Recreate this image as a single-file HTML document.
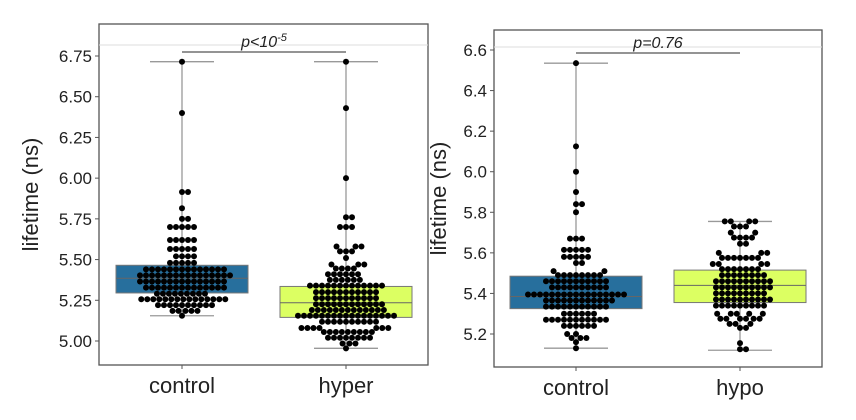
<!DOCTYPE html>
<html><head><meta charset="utf-8"><style>
body{margin:0;background:#fff;width:856px;height:420px;overflow:hidden}
svg{display:block;font-family:"Liberation Sans",sans-serif}
</style></head><body>
<svg id="c" width="856" height="420"></svg>
<script>
// Left panel data (value levels and point counts per level)
const leftCategories = ["control","hyper"];
const leftTicks = [5.00,5.25,5.50,5.75,6.00,6.25,6.50,6.75];
const leftControlLevels = [6.715,6.40,5.915,5.815,5.75,5.70,5.62,5.565,5.52,5.48,5.44,5.403,5.365,5.328,5.29,5.256,5.22,5.185,5.155];
const leftControlCounts = [1,1,2,1,2,5,5,5,4,5,14,16,15,14,9,15,10,5,1];
const leftControlBox = [5.155,5.295,5.385,5.465,6.715];
const hyperLevels = [6.715,6.43,6.0,5.76,5.70,5.58,5.55,5.51,5.47,5.445,5.41,5.375,5.34,5.30,5.263,5.226,5.19,5.155,5.118,5.08,5.055,5.02,4.985,4.955];
const hyperCounts = [1,1,1,2,3,3,3,1,3,4,6,6,13,11,11,12,13,17,10,7,9,8,3,1];
const hyperBox = [4.955,5.145,5.235,5.335,6.715];
// Right panel data
const rightCategories = ["control","hypo"];
const rightTicks = [5.2,5.4,5.6,5.8,6.0,6.2,6.4,6.6];
const rightControlLevels = [6.535,6.125,6.0,5.90,5.84,5.80,5.67,5.615,5.58,5.55,5.51,5.49,5.46,5.43,5.395,5.365,5.335,5.30,5.27,5.24,5.20,5.18,5.16,5.13];
const rightControlCounts = [1,1,1,1,2,1,3,5,5,2,2,8,11,10,17,12,11,6,11,6,2,3,1,1];
const rightControlBox = [5.13,5.325,5.385,5.485,6.535];
const hypoLevels = [5.755,5.73,5.70,5.675,5.645,5.60,5.575,5.545,5.52,5.49,5.46,5.43,5.40,5.37,5.34,5.30,5.275,5.25,5.23,5.155,5.125];
const hypoCounts = [4,3,2,4,2,3,7,4,7,8,10,10,9,10,9,5,6,3,2,1,2];
const hypoBox = [5.12,5.355,5.44,5.515,5.755];

const NS="http://www.w3.org/2000/svg";
const svg=document.getElementById('c');
function mk(tag,attrs,parent,name,inter){const e=document.createElementNS(NS,tag);for(const k in attrs)e.setAttribute(k,attrs[k]);


(parent||svg).appendChild(e);return e;}

function panel(o){
  const g=mk('g',{},svg,o.name,false);
  const y=v=>o.y0+(v-o.v0)*(o.y1-o.y0)/(o.v1-o.v0);
  mk('rect',{x:o.x0,y:o.top,width:o.right-o.x0,height:o.bottom-o.top,fill:'#fff',stroke:'#555','stroke-width':1.3},g,'plot-frame',false);
  mk('line',{x1:o.x0,x2:o.right,y1:o.grey,y2:o.grey,stroke:'#ddd','stroke-width':1},g,'reference-line',false);
  o.ticks.forEach(t=>{
    mk('line',{x1:o.x0-4,x2:o.x0,y1:y(t),y2:y(t),stroke:'#555'},g,'y-tick',false);
    const tx=mk('text',{x:o.x0-7,y:y(t)+6,'text-anchor':'end','font-size':17,fill:'#222'},g,'y-tick-label',false);
    tx.textContent=t.toFixed(o.dec);
  });
  const yt=mk('text',{transform:`translate(${o.titleX},${(o.top+o.bottom)/2}) rotate(-90)`,'text-anchor':'middle','font-size':22,fill:'#222'},g,'y-axis-title',false);
  yt.textContent='lifetime (ns)';
  o.groups.forEach((gr,i)=>{
    const cx=o.cx[i];
    mk('line',{x1:cx,x2:cx,y1:o.bottom,y2:o.bottom+4,stroke:'#555'},g,'x-tick',false);
    const xl=mk('text',{x:cx,y:o.bottom+28,'text-anchor':'middle','font-size':22,fill:'#222'},g,'x-tick-label',false);
    xl.textContent=o.cats[i];
    const b=gr.box, hw=66;
    mk('line',{x1:cx,x2:cx,y1:y(b[0]),y2:y(b[4]),stroke:'#999','stroke-width':1.3},g,'whisker',false);
    mk('line',{x1:cx-32,x2:cx+32,y1:y(b[0]),y2:y(b[0]),stroke:'#999','stroke-width':1.3},g,'whisker-cap-low',false);
    mk('line',{x1:cx-32,x2:cx+32,y1:y(b[4]),y2:y(b[4]),stroke:'#999','stroke-width':1.3},g,'whisker-cap-high',false);
    mk('rect',{x:cx-hw,y:y(b[3]),width:2*hw,height:y(b[1])-y(b[3]),fill:gr.color,stroke:'#777','stroke-width':1},g,'box-'+o.cats[i],false);
    mk('line',{x1:cx-hw,x2:cx+hw,y1:y(b[2]),y2:y(b[2]),stroke:'#666','stroke-width':1},g,'median-line',false);
    const vals=[];gr.levels.forEach((v,k)=>{for(let j=0;j<gr.counts[k];j++)vals.push(v);});
    vals.sort((a,b)=>a-b);
    const r=3.0,d=6.0,placed=[];
    vals.forEach(v=>{
      const py=y(v);let cands=[0];
      placed.forEach(p=>{const dy=Math.abs(p.y-py);if(dy<d){const dx=Math.sqrt(d*d-dy*dy);cands.push(p.x+dx,p.x-dx);}});
      cands.sort((a,b)=>Math.abs(a)-Math.abs(b));
      let px=0;
      for(const c of cands){if(placed.every(p=>(p.x-c)**2+(p.y-py)**2>=d*d-0.01)){px=c;break;}}
      placed.push({x:px,y:py});
      mk('circle',{cx:cx+px,cy:py,r:r,fill:'#000'},g,'data-point',false);
    });
  });
  mk('line',{x1:o.cx[0],x2:o.cx[1],y1:o.sig,y2:o.sig,stroke:'#555','stroke-width':1.3},g,'significance-bar',false);
  const pt=mk('text',{x:(o.cx[0]+o.cx[1])/2,y:o.sig-5,'text-anchor':'middle','font-size':16,'font-style':'italic',fill:'#222'},g,'p-value-label',false);
  pt.innerHTML=o.p;
}
panel({name:'left-panel',x0:99,right:428,top:24,bottom:365,v0:5.0,v1:6.75,y0:341,y1:56,grey:45,sig:52,dec:2,titleX:38,
  ticks:leftTicks,cats:leftCategories,cx:[182,346],
  p:'p&lt;10<tspan dy="-6" font-size="11">-5</tspan>',
  groups:[{levels:leftControlLevels,counts:leftControlCounts,box:leftControlBox,color:'#276f9d'},
          {levels:hyperLevels,counts:hyperCounts,box:hyperBox,color:'#dcff62'}]});
panel({name:'right-panel',x0:494,right:822,top:30,bottom:367,v0:5.2,v1:6.6,y0:334,y1:50,grey:47,sig:53,dec:1,titleX:446,
  ticks:rightTicks,cats:rightCategories,cx:[576,740],
  p:'p=0.76',
  groups:[{levels:rightControlLevels,counts:rightControlCounts,box:rightControlBox,color:'#276f9d'},
          {levels:hypoLevels,counts:hypoCounts,box:hypoBox,color:'#dcff62'}]});
</script>
</body></html>
